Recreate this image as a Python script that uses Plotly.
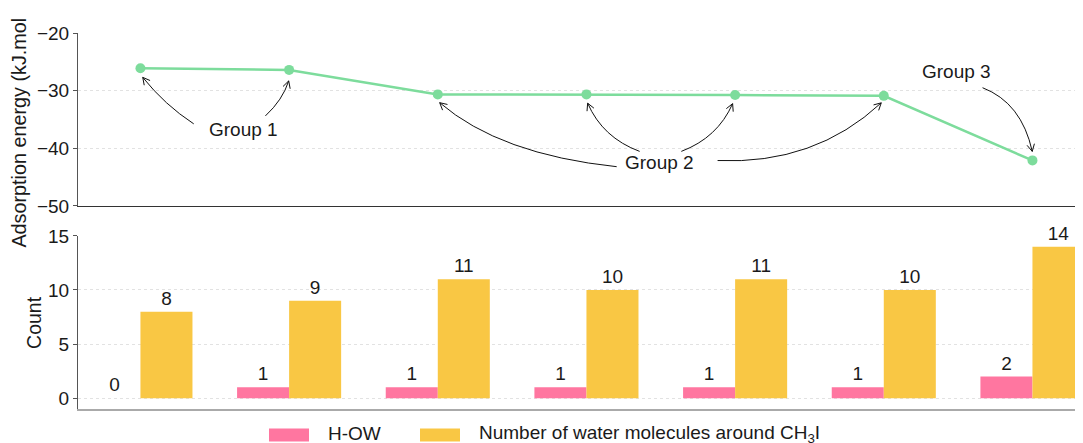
import math
import plotly.graph_objects as go

# ---------------- data ----------------
configs = [0, 1, 2, 3, 4, 5, 6]
adsorption_energy = [-26.1, -26.4, -30.65, -30.65, -30.75, -30.9, -42.1]
h_ow = [0, 1, 1, 1, 1, 1, 2]
water_count = [8, 9, 11, 10, 11, 10, 14]
group_labels = ["Group 1", "Group 2", "Group 3"]

FONT = "Liberation Sans, Arial, Helvetica, sans-serif"
GREEN = "#7ddc9c"
PINK = "#ff76a0"
YELLOW = "#f9c744"
TXT = "#1a1a1a"

fig = go.Figure()

fig.add_trace(go.Scatter(
    x=configs, y=adsorption_energy, mode="lines+markers",
    line=dict(color=GREEN, width=2.5),
    marker=dict(color=GREEN, size=10),
    xaxis="x", yaxis="y", showlegend=False, cliponaxis=False,
))

fig.add_trace(go.Bar(
    x=configs, y=h_ow, name="H-OW", marker=dict(color=PINK, line=dict(width=0)),
    text=h_ow, textposition="outside", textfont=dict(size=19, color=TXT, family=FONT),
    xaxis="x2", yaxis="y2", showlegend=False, cliponaxis=False,
))
fig.add_trace(go.Bar(
    x=configs, y=water_count, name="Number of water molecules around CH<sub>3</sub>I",
    marker=dict(color=YELLOW, line=dict(width=0)),
    text=water_count, textposition="outside", textfont=dict(size=19, color=TXT, family=FONT),
    xaxis="x2", yaxis="y2", showlegend=False, cliponaxis=False,
))

# ---------------- curved annotation arrows (pixel offsets from the target point) ----
def arrow(idx, start, ctrl, end, L=8, half=28):
    x0, y0 = configs[idx], adsorption_energy[idx]
    sx, sy = start
    cx, cy = ctrl
    ex, ey = end
    path = f"M{sx},{sy} Q{cx},{cy} {ex},{ey}"
    dx, dy = ex - cx, ey - cy
    n = math.hypot(dx, dy)
    dx, dy = dx / n, dy / n
    heads = []
    for s in (1, -1):
        a = math.radians(half) * s
        rx = dx * math.cos(a) - dy * math.sin(a)
        ry = dx * math.sin(a) + dy * math.cos(a)
        heads.append((ex - L * rx, ey - L * ry))
    path += f" M{heads[0][0]:.2f},{heads[0][1]:.2f} L{ex},{ey} L{heads[1][0]:.2f},{heads[1][1]:.2f}"
    fig.add_shape(type="path", path=path, xref="x", yref="y",
                  xsizemode="pixel", ysizemode="pixel", xanchor=x0, yanchor=y0,
                  line=dict(color="#111111", width=1))

# Group 1
arrow(0, (53.3, -55.7), (24.3, -36.7), (2.3, -9.2))
arrow(1, (-23.7, -46), (-6.4, -30), (-0.4, -11))
# Group 2
arrow(2, (178.9, -72.3), (62, -60), (1.9, -8.3))
arrow(3, (53.2, -57), (16.2, -43.3), (1.2, -8.8))
arrow(4, (-53.8, -56.4), (-17.5, -42.7), (-2.5, -8.7))
arrow(5, (-166.2, -64.7), (-69.2, -69), (-2.5, -7))
# Group 3
arrow(6, (-49.9, 72.7), (-10.9, 57.7), (-0.2, 9))

label_pos = [(0.69, -36.8), (3.49, -42.5), (5.49, -26.7)]
for lab, (lx, ly) in zip(group_labels, label_pos):
    fig.add_annotation(x=lx, y=ly, xref="x", yref="y", text=lab, showarrow=False,
                       font=dict(size=19, color=TXT, family=FONT))

# ---------------- axis titles ----------------
fig.add_annotation(x=-0.0587, y=0.424, xref="paper", yref="paper",
                   text="Adsorption energy (kJ.mol", textangle=-90, showarrow=False,
                   xanchor="center", yanchor="bottom",
                   font=dict(size=19.8, color=TXT, family=FONT))
fig.add_annotation(x=-0.0433, y=0.2302, xref="paper", yref="paper",
                   text="Count", textangle=-90, showarrow=False,
                   xanchor="center", yanchor="middle",
                   font=dict(size=19.5, color=TXT, family=FONT))

# ---------------- custom legend ----------------
legend_items = [("H-OW", PINK, 269, 326),
                ("Number of water molecules around CH<sub>3</sub>I", YELLOW, 420, 477)]
for text, col, sx, tx in legend_items:
    fig.add_shape(type="rect", xref="paper", yref="paper",
                  x0=(sx - 78) / 1005, x1=(sx + 40 - 78) / 1005,
                  y0=-0.0864, y1=-0.0518, fillcolor=col, line=dict(width=0))
    fig.add_annotation(x=(tx - 78) / 1005, y=-0.066, xref="paper", yref="paper",
                       text=text, showarrow=False, xanchor="left", yanchor="middle",
                       font=dict(size=19, color=TXT, family=FONT))

xr = [-0.42, 6.34]
grid = dict(showgrid=True, gridcolor="#e2e2e2", griddash="dot", gridwidth=1)

fig.update_layout(
    width=1075, height=435,
    margin=dict(l=70, r=0, t=25.3, b=33.5),
    paper_bgcolor="white", plot_bgcolor="white",
    font=dict(family=FONT, size=19, color=TXT),
    barmode="group", bargap=0.3, bargroupgap=0,
    xaxis=dict(domain=[0, 1], anchor="y", range=xr, showticklabels=False, ticks="",
               showgrid=False, zeroline=False, showline=True, linecolor="#333333", linewidth=1.3),
    yaxis=dict(domain=[0.540, 1], anchor="x", range=[-50, -20], tickvals=[-50, -40, -30, -20],
               ticks="outside", ticklen=4, tickcolor="#555555", showline=True,
               linecolor="#555555", linewidth=1, zeroline=False,
               tickfont=dict(size=19, color=TXT, family=FONT), **grid),
    xaxis2=dict(domain=[0, 1], anchor="y2", range=xr, showticklabels=False, ticks="",
                showgrid=False, zeroline=False, showline=True, linecolor="#aaaaaa", linewidth=1.5),
    yaxis2=dict(domain=[0, 0.4604], anchor="x2", range=[-1, 15], tickvals=[0, 5, 10, 15],
                ticks="outside", ticklen=4, tickcolor="#555555", showline=True,
                linecolor="#555555", linewidth=1, zeroline=False,
                tickfont=dict(size=19, color=TXT, family=FONT), **grid),
)

fig.write_html("out.html")
